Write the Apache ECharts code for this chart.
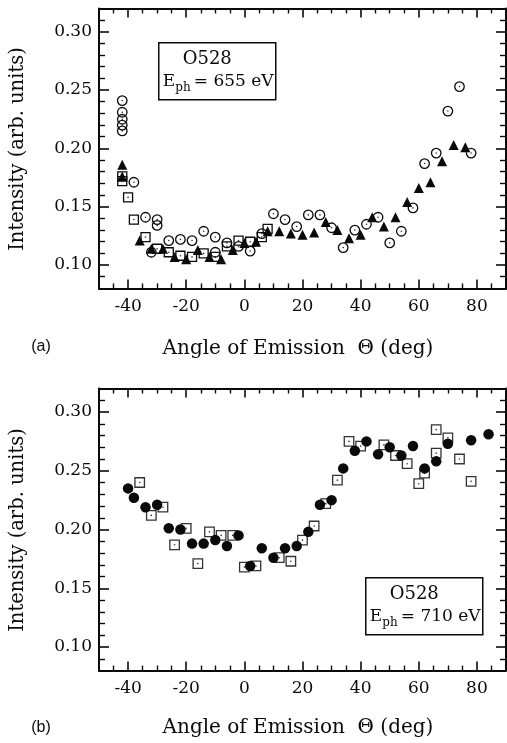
<!DOCTYPE html>
<html>
<head>
<meta charset="utf-8">
<script src="https://cdn.jsdelivr.net/npm/echarts@6/dist/echarts.min.js"></script>
<style>
html,body{margin:0;padding:0;background:#fff;}
#chart{width:507px;height:743px;}
</style>
</head>
<body>
<div id="chart"></div>
<script>
// ---- axis ticks ----
const xMajor = [-40, -20, 0, 20, 40, 60, 80];
const xMinor = [-45, -35, -30, -25, -15, -10, -5, 5, 10, 15, 25, 30, 35, 45, 50, 55, 65, 70, 75, 85];
const yMajor = [0.10, 0.15, 0.20, 0.25, 0.30];
const yMinor = [0.09, 0.11, 0.12, 0.13, 0.14, 0.16, 0.17, 0.18, 0.19, 0.21, 0.22, 0.23, 0.24, 0.26, 0.27, 0.28, 0.29, 0.31];

// ---- panel (a): E_ph = 655 eV ----
const aCircX = [-42, -42, -42, -42, -42, -38, -34, -32, -30, -30, -26, -22, -18, -14, -10, -10, -6, -2, 2, 6, 10, 14, 18, 22, 26, 30, 34, 38, 42, 46, 50, 54, 58, 62, 66, 70, 74, 78];
const aCircY = [0.241, 0.231, 0.225, 0.220, 0.215, 0.171, 0.141, 0.111, 0.139, 0.134, 0.121, 0.122, 0.121, 0.129, 0.124, 0.111, 0.119, 0.116, 0.112, 0.127, 0.144, 0.139, 0.133, 0.143, 0.143, 0.132, 0.115, 0.130, 0.135, 0.141, 0.119, 0.129, 0.149, 0.187, 0.196, 0.232, 0.253, 0.196];

const aTriX = [-42, -42, -36, -32, -28, -24, -20, -16, -12, -8, -4, 0, 4, 8, 12, 16, 20, 24, 28, 32, 36, 40, 44, 48, 52, 56, 60, 64, 68, 72, 76];
const aTriY = [0.186, 0.176, 0.121, 0.114, 0.114, 0.107, 0.105, 0.113, 0.107, 0.105, 0.113, 0.119, 0.120, 0.129, 0.129, 0.127, 0.126, 0.128, 0.137, 0.130, 0.123, 0.126, 0.141, 0.133, 0.141, 0.154, 0.166, 0.171, 0.189, 0.203, 0.201];

const aSqX = [-42, -42, -40, -38, -34, -30, -26, -22, -18, -14, -10, -6, -2, 2, 6, 8];
const aSqY = [0.176, 0.172, 0.158, 0.139, 0.124, 0.114, 0.111, 0.108, 0.107, 0.110, 0.107, 0.116, 0.121, 0.120, 0.124, 0.131];

// ---- panel (b): E_ph = 710 eV ----
const bDotX = [-40, -38, -34, -30, -26, -22, -18, -14, -10, -6, -2, 2, 6, 10, 14, 18, 22, 26, 30, 34, 38, 42, 46, 50, 54, 58, 62, 66, 70, 78, 84];
const bDotY = [0.235, 0.227, 0.219, 0.221, 0.201, 0.200, 0.188, 0.188, 0.191, 0.186, 0.195, 0.169, 0.184, 0.176, 0.184, 0.186, 0.198, 0.221, 0.225, 0.252, 0.267, 0.275, 0.264, 0.270, 0.263, 0.271, 0.252, 0.258, 0.273, 0.276, 0.281];

const bSqX = [-36, -32, -28, -24, -20, -16, -12, -8, -4, 0, 4, 12, 16, 20, 24, 28, 32, 36, 40, 48, 52, 56, 60, 62, 66, 66, 70, 74, 78];
const bSqY = [0.240, 0.212, 0.219, 0.187, 0.201, 0.171, 0.198, 0.195, 0.195, 0.168, 0.169, 0.176, 0.173, 0.191, 0.203, 0.222, 0.242, 0.275, 0.271, 0.272, 0.263, 0.256, 0.239, 0.248, 0.285, 0.265, 0.278, 0.260, 0.241];

// ---- styling ----
const ink = '#0a0a0a';
const serif = "'DejaVu Serif', serif";
const sans = "'Liberation Sans', Arial, sans-serif";
const xMin = -50, xMax = 90, yMin = 0.08, yMax = 0.32;

const zip = (xs, ys) => xs.map((x, i) => [x, ys[i]]);

function xAxesFor(gridIndex) {
  const base = {
    gridIndex, type: 'value', min: xMin, max: xMax,
    splitLine: { show: false },
    axisLine: { show: false, onZero: false },
    axisLabel: { show: false },
    axisTick: { show: false }
  };
  const line = { show: true, onZero: false, lineStyle: { color: ink, width: 2 } };
  const major = { show: true, inside: true, length: 9, customValues: xMajor, lineStyle: { color: ink, width: 1.6 } };
  const minor = { show: true, inside: true, length: 5, customValues: xMinor, lineStyle: { color: ink, width: 1.4 } };
  return [
    Object.assign({}, base, {
      position: 'bottom', axisLine: line, axisTick: major,
      axisLabel: { show: true, customValues: xMajor, margin: 10, color: ink, fontFamily: serif, fontSize: 17 }
    }),
    Object.assign({}, base, { position: 'bottom', axisTick: minor }),
    Object.assign({}, base, { position: 'top', axisLine: line, axisTick: major }),
    Object.assign({}, base, { position: 'top', axisTick: minor })
  ];
}

function yAxesFor(gridIndex) {
  const base = {
    gridIndex, type: 'value', min: yMin, max: yMax,
    splitLine: { show: false },
    axisLine: { show: false, onZero: false },
    axisLabel: { show: false },
    axisTick: { show: false }
  };
  const line = { show: true, onZero: false, lineStyle: { color: ink, width: 2 } };
  const major = { show: true, inside: true, length: 10, customValues: yMajor, lineStyle: { color: ink, width: 1.6 } };
  const minor = { show: true, inside: true, length: 6, customValues: yMinor, lineStyle: { color: ink, width: 1.4 } };
  return [
    Object.assign({}, base, {
      position: 'left', axisLine: line, axisTick: major,
      axisLabel: { show: true, customValues: yMajor, margin: 7, color: ink, fontFamily: serif, fontSize: 17,
                   formatter: v => v.toFixed(2) }
    }),
    Object.assign({}, base, { position: 'left', axisTick: minor }),
    Object.assign({}, base, { position: 'right', axisLine: line, axisTick: major }),
    Object.assign({}, base, { position: 'right', axisTick: minor })
  ];
}

const openStyle = { color: 'rgba(0,0,0,0)', borderColor: ink, borderWidth: 1.3, opacity: 1 };

function scatter(grid, data, symbol, size, itemStyle, z) {
  return {
    type: 'scatter', xAxisIndex: grid * 4, yAxisIndex: grid * 4,
    data, symbol, symbolSize: size, itemStyle, z: z || 2,
    silent: true, animation: false
  };
}
// tiny centre dot drawn inside the open symbols
function centreDots(grid, data) {
  return scatter(grid, data, 'circle', 1.6, { color: '#333', opacity: 1 }, 3);
}

const series = [
  scatter(0, zip(aSqX, aSqY), 'rect', 9, openStyle),
  centreDots(0, zip(aSqX, aSqY)),
  scatter(0, zip(aTriX, aTriY), 'triangle', 10, { color: ink, opacity: 1 }, 4),
  scatter(0, zip(aCircX, aCircY), 'circle', 9.5, openStyle, 5),
  centreDots(0, zip(aCircX, aCircY)),
  scatter(1, zip(bSqX, bSqY), 'rect', 9.5, { color: 'rgba(0,0,0,0)', borderColor: '#333', borderWidth: 1.3, opacity: 1 }),
  centreDots(1, zip(bSqX, bSqY)),
  scatter(1, zip(bDotX, bDotY), 'circle', 10.5, { color: ink, opacity: 1 }, 4)
];

// label box with the core level and photon energy
function infoBox(left, top, energy) {
  return {
    type: 'group', left: left, top: top,
    children: [
      { type: 'rect', shape: { x: 0, y: 0, width: 117, height: 57 },
        style: { fill: '#fff', stroke: ink, lineWidth: 1.5 } },
      { type: 'text', x: 48.5, y: 17,
        style: { text: 'O528', font: '18px ' + serif, fill: ink, align: 'center', verticalAlign: 'middle' } },
      { type: 'text', x: 4, y: 38.5,
        style: { text: 'E', font: '17px ' + serif, fill: ink, align: 'left', verticalAlign: 'middle' } },
      { type: 'text', x: 16.5, y: 45.5,
        style: { text: 'ph', font: '12px ' + serif, fill: ink, align: 'left', verticalAlign: 'middle' } },
      { type: 'text', x: 35, y: 38.5,
        style: { text: '= ' + energy, font: '17px ' + serif, fill: ink, align: 'left', verticalAlign: 'middle' } }
    ]
  };
}

function caption(x, y, text, font, rotation) {
  return {
    type: 'text', x: x, y: y, rotation: rotation || 0,
    style: { text: text, font: font, fill: ink, align: 'center', verticalAlign: 'middle' }
  };
}

const chart = echarts.init(document.getElementById('chart'), null, { renderer: 'canvas' });
chart.setOption({
  animation: false,
  backgroundColor: '#fff',
  grid: [
    { left: 99, top: 8.4, width: 407, height: 280, containLabel: false },
    { left: 99, top: 388.5, width: 407, height: 282, containLabel: false }
  ],
  xAxis: xAxesFor(0).concat(xAxesFor(1)),
  yAxis: yAxesFor(0).concat(yAxesFor(1)),
  series: series,
  graphic: [
    infoBox(158, 42, '655 eV'),
    infoBox(365, 577, '710 eV'),
    caption(18, 149, 'Intensity (arb. units)', '19.5px ' + serif, Math.PI / 2),
    caption(18, 530, 'Intensity (arb. units)', '19.5px ' + serif, Math.PI / 2),
    caption(298, 349, 'Angle of Emission  \u0398 (deg)', '20px ' + serif),
    caption(298, 728, 'Angle of Emission  \u0398 (deg)', '20px ' + serif),
    caption(41, 347, '(a)', '16px ' + sans),
    caption(41, 728, '(b)', '16px ' + sans)
  ]
});
</script>
</body>
</html>
